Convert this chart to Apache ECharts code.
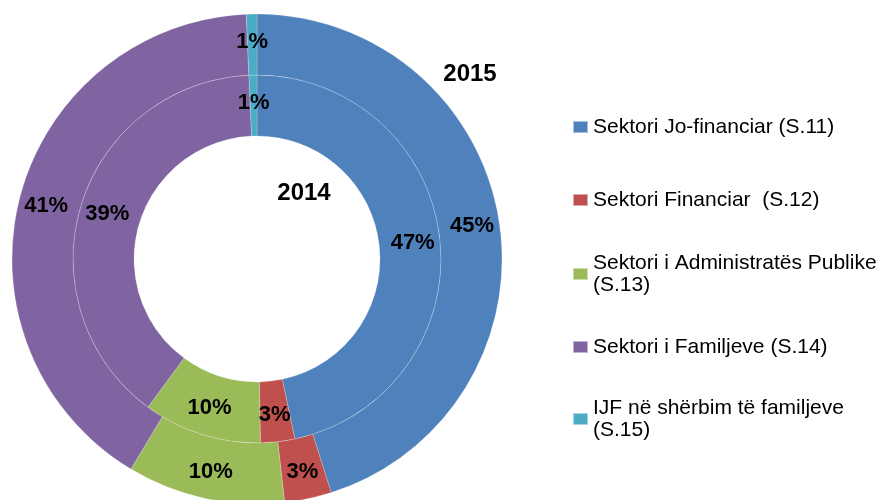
<!DOCTYPE html>
<html>
<head>
<meta charset="utf-8">
<script src="https://cdn.jsdelivr.net/npm/echarts@6/dist/echarts.min.js"></script>
<style>
  html, body { margin: 0; padding: 0; background: #fff; }
  #chart { width: 880px; height: 500px; }
</style>
</head>
<body>
<div id="chart"></div>
<script>
// sectors (same order in both rings)
const categories = [
  "Sektori Jo-financiar (S.11)",
  "Sektori Financiar  (S.12)",
  "Sektori i Administratës Publike (S.13)",
  "Sektori i Familjeve (S.14)",
  "IJF në shërbim të familjeve (S.15)",
];
const legendLabels = [
  "Sektori Jo-financiar (S.11)",
  "Sektori Financiar  (S.12)",
  "Sektori i Administratës Publike\n(S.13)",
  "Sektori i Familjeve (S.14)",
  "IJF në shërbim të familjeve\n(S.15)",
];
// shares in %, inner ring = 2014, outer ring = 2015
const values2014 = [46.7, 3.0, 10.4, 39.2, 0.7];
const values2015 = [45.1, 3.1, 10.4, 40.7, 0.7];
const years = ["2014", "2015"];

const COLORS = ["#4f81bd", "#c0504d", "#9bbb59", "#8064a2", "#4bacc6"];
const FONT = "'Liberation Sans', Arial, sans-serif";
const CENTER = [257, 259];
// symbol centre y of each legend row
const legendRowY = [127, 200, 274, 347, 419];

const chart = echarts.init(document.getElementById("chart"), null, { renderer: "canvas" });

function ringSeries(name, values, radius) {
  return {
    name,
    type: "pie",
    center: CENTER,
    radius,
    startAngle: 90,
    clockwise: true,
    silent: true,
    avoidLabelOverlap: false,
    itemStyle: { borderColor: "rgba(255,255,255,0.5)", borderWidth: 0.4 },
    label: {
      show: true,
      position: "inside",
      color: "#000",
      fontSize: 22,
      fontWeight: "bold",
      fontFamily: FONT,
      formatter: (p) => Math.round(p.value) + "%",
    },
    labelLine: { show: false },
    emphasis: { disabled: true },
    data: categories.map((c, i) => ({ name: c, value: values[i] })),
  };
}

const legends = categories.map((name, i) => {
  const twoLines = legendLabels[i].includes("\n");
  return {
    orient: "vertical",
    left: 572,
    top: legendRowY[i] - (twoLines ? 33 : 11),
    padding: 0,
    icon: "rect",
    itemWidth: 15,
    itemHeight: 12,
    selectedMode: false,
    formatter: () => legendLabels[i],
    textStyle: { fontSize: 21, lineHeight: 22, color: "#000", fontFamily: FONT },
    data: [{ name, textStyle: twoLines ? { padding: [22, 0, 0, 0] } : {} }],
  };
});

chart.setOption({
  animation: false,
  color: COLORS,
  legend: legends,
  series: [
    ringSeries(years[0], values2014, [123, 184]),
    ringSeries(years[1], values2015, [184, 245]),
  ],
  graphic: [
    {
      type: "text",
      x: 304,
      y: 193,
      style: { text: years[0], fontSize: 24, fontWeight: "bold", fontFamily: FONT, fill: "#000", align: "center", verticalAlign: "middle" },
    },
    {
      type: "text",
      x: 470,
      y: 74,
      style: { text: years[1], fontSize: 24, fontWeight: "bold", fontFamily: FONT, fill: "#000", align: "center", verticalAlign: "middle" },
    },
  ],
});
</script>
</body>
</html>
